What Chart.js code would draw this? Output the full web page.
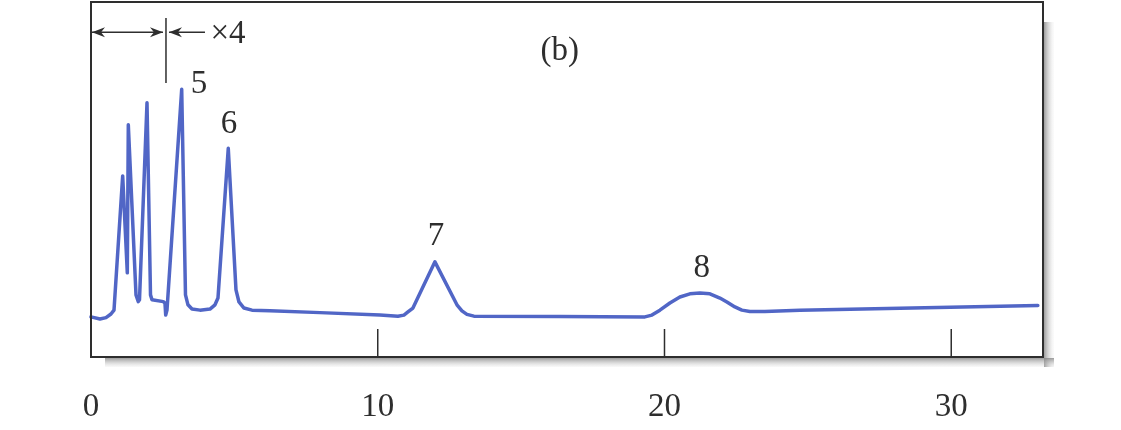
<!DOCTYPE html>
<html>
<head>
<meta charset="utf-8">
<script src="https://cdn.jsdelivr.net/npm/chart.js@4.4.1/dist/chart.umd.min.js"></script>
<style>
  html, body { margin: 0; padding: 0; background: #ffffff; }
  #wrap { width: 1121px; height: 430px; }
</style>
</head>
<body>
<div id="wrap"><canvas id="c" width="1121" height="430"></canvas></div>
<script>
// Retention time (min) and detector signal (arbitrary units, 0-100 = frame height)
const retentionTime = [
  0.000, 0.314, 0.523, 0.697, 0.802, 1.105, 1.266, 1.301, 1.569, 1.649, 1.691, 1.953, 2.075, 2.127,
  2.521, 2.580, 2.605, 2.650, 3.163, 3.295, 3.382, 3.522, 3.801, 4.149, 4.324, 4.428, 4.787,
  5.056, 5.160, 5.335, 5.614, 6.241, 7.985, 10.077,
  10.704, 10.913, 11.053, 11.227, 11.994, 12.762, 12.936, 13.110, 13.354, 16.353,
  19.317, 19.561, 19.840, 20.188, 20.537, 20.886, 21.234, 21.583, 21.932, 22.176, 22.455, 22.699,
  22.978, 23.501, 24.721, 28.208, 33.020
];
const signal = [
  11.3, 10.7, 11.1, 12.1, 13.2, 51.0, 23.7, 65.4, 17.5, 15.6, 16.1, 71.6, 17.5, 16.1,
  15.6, 15.2, 11.8, 13.2, 75.4, 17.5, 14.7, 13.5, 13.2, 13.5, 14.7, 16.6, 58.8,
  18.9, 15.5, 13.8, 13.2, 13.0, 12.5, 11.8,
  11.5, 11.8, 12.7, 13.8, 26.8, 14.7, 13.0, 12.0, 11.5, 11.4,
  11.3, 11.8, 13.2, 15.2, 16.9, 17.8, 18.0, 17.8, 16.6, 15.5, 14.1, 13.2,
  12.8, 12.8, 13.2, 13.7, 14.5
];
const tickValues = [0, 10, 20, 30];
const xRange = [0, 33.2];
const yRange = [0, 100];

// Peak labels and panel label (text, retention time, signal level)
const labelTexts = ['5', '6', '7', '8', '(b)'];
const labelX = [3.77, 4.81, 12.03, 21.30, 16.35];
const labelY = [76.9, 65.6, 34.1, 25.1, 86.0];

// Attenuation marker (×4 change)
const markerX = 2.615;
const markerYRange = [77.2, 95.5];
const arrowY = 91.5;
const attenText = '×4';
const attenArrowEnd = 3.975;
const attenTextX = 4.78;

const FONT = '33px "Liberation Serif", "DejaVu Serif", serif';
const INK = '#2e2e2e';

const framePlugin = {
  id: 'frame',
  beforeDraw(chart) {
    const { ctx, chartArea: a } = chart;
    ctx.save();
    const gR = ctx.createLinearGradient(a.right, 0, a.right + 10, 0);
    gR.addColorStop(0, 'rgba(120,120,120,0.85)');
    gR.addColorStop(1, 'rgba(200,200,200,0.1)');
    ctx.fillStyle = gR;
    ctx.fillRect(a.right + 1, a.top + 20, 10, a.bottom - a.top - 10);
    const gB = ctx.createLinearGradient(0, a.bottom, 0, a.bottom + 10);
    gB.addColorStop(0, 'rgba(120,120,120,0.85)');
    gB.addColorStop(1, 'rgba(200,200,200,0.1)');
    ctx.fillStyle = gB;
    ctx.fillRect(a.left + 14, a.bottom + 1, a.right - a.left - 3, 9);
    ctx.restore();
  },
  afterDraw(chart) {
    const { ctx, chartArea: a, scales } = chart;
    const xs = scales.x, ys = scales.y;
    ctx.save();
    ctx.strokeStyle = INK;
    ctx.lineWidth = 2;
    ctx.strokeRect(a.left, a.top, a.right - a.left, a.bottom - a.top);
    ctx.lineWidth = 1.5;
    tickValues.forEach(v => {
      if (v === xRange[0]) return;
      const px = xs.getPixelForValue(v);
      ctx.beginPath();
      ctx.moveTo(px, a.bottom);
      ctx.lineTo(px, a.bottom - 28);
      ctx.stroke();
    });
    ctx.fillStyle = INK;
    ctx.font = FONT;
    ctx.textAlign = 'center';
    ctx.textBaseline = 'middle';
    labelTexts.forEach((t, i) => {
      ctx.fillText(t, xs.getPixelForValue(labelX[i]), ys.getPixelForValue(labelY[i]));
    });
    const mx = xs.getPixelForValue(markerX);
    const ay = ys.getPixelForValue(arrowY);
    ctx.lineWidth = 1.5;
    ctx.beginPath();
    ctx.moveTo(mx, ys.getPixelForValue(markerYRange[0]));
    ctx.lineTo(mx, ys.getPixelForValue(markerYRange[1]));
    ctx.stroke();
    const x0 = xs.getPixelForValue(xRange[0]) + 1;
    const arrowHead = (tipX, dir) => {
      ctx.beginPath();
      ctx.moveTo(tipX, ay);
      ctx.lineTo(tipX - dir * 13, ay - 5);
      ctx.lineTo(tipX - dir * 9, ay);
      ctx.lineTo(tipX - dir * 13, ay + 5);
      ctx.closePath();
      ctx.fill();
    };
    ctx.beginPath();
    ctx.moveTo(x0, ay);
    ctx.lineTo(mx - 3, ay);
    ctx.stroke();
    arrowHead(x0, -1);
    arrowHead(mx - 3, 1);
    const ex = xs.getPixelForValue(attenArrowEnd);
    ctx.beginPath();
    ctx.moveTo(mx + 3, ay);
    ctx.lineTo(ex, ay);
    ctx.stroke();
    arrowHead(mx + 3, -1);
    ctx.textAlign = 'center';
    ctx.fillText(attenText, xs.getPixelForValue(attenTextX), ay + 2);
    ctx.restore();
  }
};

new Chart(document.getElementById('c'), {
  type: 'line',
  data: {
    datasets: [{
      data: retentionTime.map((t, i) => ({ x: t, y: signal[i] })),
      borderColor: '#5166c6',
      borderWidth: 3.5,
      pointRadius: 0,
      tension: 0,
      borderJoinStyle: 'round',
      borderCapStyle: 'round',
      fill: false,
      clip: false
    }]
  },
  options: {
    responsive: false,
    animation: false,
    events: [],
    layout: { padding: { left: 91, right: 78, top: 2, bottom: 0 } },
    plugins: { legend: { display: false }, tooltip: { enabled: false } },
    scales: {
      x: {
        type: 'linear',
        min: xRange[0],
        max: xRange[1],
        afterBuildTicks(scale) { scale.ticks = tickValues.map(v => ({ value: v })); },
        afterFit(scale) { scale.height = 73; },
        grid: { display: false, drawTicks: false },
        border: { display: false },
        ticks: {
          color: INK,
          padding: 31,
          maxRotation: 0,
          autoSkip: false,
          font: { family: '"Liberation Serif", "DejaVu Serif", serif', size: 33 }
        }
      },
      y: {
        display: false,
        min: yRange[0],
        max: yRange[1]
      }
    }
  },
  plugins: [framePlugin]
});
</script>
</body>
</html>
